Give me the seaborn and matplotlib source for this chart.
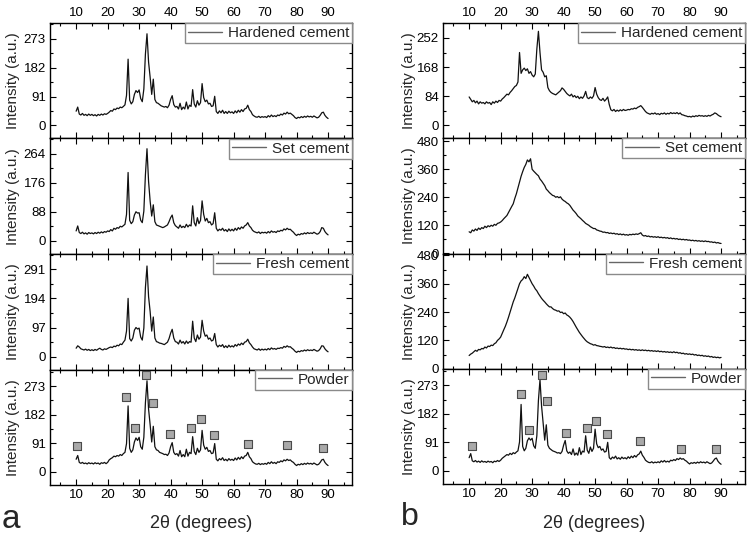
import numpy as np
import pandas as pd
import matplotlib
matplotlib.use("Agg")
import matplotlib.pyplot as plt
import seaborn as sns
from matplotlib.ticker import MultipleLocator, FixedLocator

# ---------------- data ----------------
TWO_THETA = np.arange(10.0, 90.01, 0.5)

LEFT_HARDENED = [
    45, 58, 36, 33, 38, 32, 35, 31, 36, 32,
    35, 31, 34, 30, 35, 32, 36, 33, 37, 35,
    38, 42, 47, 45, 52, 50, 55, 53, 58, 56,
    60, 65, 95, 209, 80, 68, 75, 98, 110, 104,
    112, 85, 75, 115, 225, 289, 200, 152, 98, 146,
    82, 72, 70, 66, 62, 60, 58, 60, 56, 64,
    82, 94, 66, 58, 60, 52, 70, 50, 58, 52,
    74, 52, 64, 60, 113, 68, 58, 78, 64, 72,
    132, 88, 75, 80, 68, 70, 60, 62, 92, 44,
    38, 46, 40, 48, 38, 44, 38, 45, 40, 43,
    38, 46, 40, 48, 42, 50, 44, 52, 54, 64,
    50, 44, 34, 30, 27, 26, 29, 25, 28, 26,
    28, 25, 31, 27, 33, 28, 31, 28, 33, 31,
    36, 33, 39, 36, 42, 37, 39, 35, 31, 25,
    22, 26, 24, 28, 25, 29, 26, 30, 27, 29,
    26, 30, 27, 24, 26, 32, 40, 42, 32, 26,
    22]

LEFT_SET = [
    30, 45, 25, 22, 26, 21, 24, 20, 25, 22,
    24, 21, 25, 22, 26, 23, 27, 24, 28, 26,
    30, 28, 34, 30, 38, 35, 40, 38, 44, 42,
    46, 50, 80, 207, 62, 52, 58, 78, 88, 84,
    85, 62, 55, 90, 200, 279, 180, 120, 75, 109,
    58, 48, 46, 44, 42, 40, 42, 45, 48, 58,
    70, 78, 55, 46, 42, 38, 48, 40, 44, 40,
    50, 42, 48, 45, 106, 55, 45, 70, 52, 62,
    121, 80, 60, 68, 55, 58, 48, 52, 85, 38,
    30, 35, 32, 38, 30, 34, 28, 36, 30, 35,
    30, 38, 32, 40, 35, 42, 38, 45, 48, 55,
    45, 40, 32, 28, 26, 24, 27, 22, 26, 24,
    26, 23, 28, 24, 30, 26, 28, 25, 30, 28,
    32, 30, 36, 33, 38, 34, 35, 30, 26, 20,
    16, 20, 18, 22, 20, 24, 21, 25, 22, 24,
    22, 26, 23, 20, 22, 28, 40, 38, 28, 22,
    18]

LEFT_FRESH = [
    28, 36, 32, 26, 24, 22, 25, 21, 24, 20,
    23, 20, 24, 21, 25, 28, 24, 22, 26, 24,
    27, 30, 32, 30, 35, 33, 38, 36, 42, 40,
    48, 55, 85, 194, 60, 52, 62, 88, 97, 92,
    95, 65, 55, 95, 230, 302, 200, 150, 85, 132,
    62, 50, 48, 45, 44, 42, 40, 44, 48, 60,
    78, 91, 62, 50, 48, 42, 55, 45, 50, 42,
    52, 44, 50, 48, 118, 62, 50, 72, 58, 65,
    121, 85, 68, 72, 58, 62, 52, 55, 77, 40,
    32, 38, 34, 40, 30, 36, 30, 38, 32, 36,
    32, 40, 35, 42, 38, 45, 40, 48, 50, 58,
    46, 40, 32, 26, 24, 22, 26, 21, 25, 22,
    25, 22, 27, 23, 29, 25, 27, 24, 28, 27,
    30, 28, 34, 31, 36, 32, 33, 28, 24, 18,
    14, 18, 16, 20, 18, 22, 19, 23, 20, 22,
    20, 24, 21, 18, 20, 26, 36, 35, 26, 20,
    16]

LEFT_POWDER = [
    40, 52, 30, 27, 30, 26, 28, 25, 29, 26,
    28, 25, 29, 26, 28, 24, 29, 27, 30, 26,
    30, 38, 42, 45, 50, 48, 52, 50, 55, 52,
    58, 62, 90, 210, 75, 62, 70, 95, 108, 100,
    110, 80, 72, 110, 220, 290, 200, 150, 95, 145,
    80, 70, 68, 62, 60, 58, 55, 56, 52, 60,
    80, 93, 62, 55, 58, 50, 68, 48, 55, 48,
    72, 50, 62, 58, 112, 65, 55, 75, 62, 70,
    132, 85, 72, 78, 65, 68, 58, 60, 90, 40,
    35, 42, 38, 45, 36, 40, 35, 42, 37, 40,
    36, 44, 38, 46, 40, 48, 42, 50, 52, 62,
    48, 42, 32, 28, 25, 24, 27, 23, 26, 24,
    27, 24, 30, 26, 32, 27, 30, 26, 32, 30,
    35, 32, 38, 35, 40, 36, 38, 33, 30, 24,
    20, 24, 22, 26, 23, 27, 24, 28, 25, 27,
    24, 28, 25, 22, 24, 30, 38, 40, 30, 24,
    20]

RIGHT_HARDENED = [
    82, 75, 68, 72, 65, 70, 62, 68, 64, 66,
    62, 68, 64, 66, 60, 68, 64, 70, 66, 72,
    70, 76, 80, 85, 90, 88, 95, 100, 106, 112,
    115, 125, 210, 150, 160, 165, 158, 163, 150, 155,
    145, 140, 148, 220, 271, 210, 160, 153, 140, 143,
    109, 100, 95, 92, 90, 88, 92, 96, 100, 108,
    104, 98, 92, 88, 85, 90, 82, 86, 80, 84,
    77, 82, 78, 85, 98, 80, 77, 82, 78, 85,
    109, 90, 80, 74, 72, 78, 70, 75, 82, 60,
    45, 42, 46, 40, 44, 41, 45, 42, 46, 43,
    44, 46, 45, 48, 47, 50, 48, 52, 54, 57,
    52, 46, 40, 36, 34, 32, 35, 33, 36, 32,
    34, 31, 35, 33, 36, 32, 35, 33, 37, 34,
    36, 34, 37, 33, 36, 31, 30, 28, 27, 25,
    26, 24, 27, 25, 28, 26, 29, 27, 28, 26,
    28, 26, 29, 27, 30, 32, 36, 34, 30, 27,
    25]

RIGHT_SET = [
    92, 88, 100, 95, 104, 98, 108, 102, 110, 106,
    116, 110, 118, 114, 120, 116, 124, 120, 128, 130,
    134, 140, 148, 155, 162, 175, 188, 200, 212, 235,
    255, 280, 304, 330, 350, 368, 381, 400, 392, 405,
    360, 352, 345, 338, 332, 318, 310, 300, 290, 275,
    268, 260, 254, 248, 246, 240, 243, 238, 242, 232,
    226, 222, 216, 212, 205, 195, 185, 178, 170, 160,
    154, 148, 141, 135, 128, 124, 120, 114, 110, 106,
    106, 100, 98, 95, 94, 90, 91, 88, 89, 85,
    87, 84, 86, 82, 84, 80, 83, 79, 82, 78,
    80, 77, 81, 79, 82, 80, 83, 81, 84, 88,
    78, 74, 76, 72, 74, 70, 72, 69, 71, 68,
    71, 67, 69, 66, 68, 65, 67, 63, 66, 62,
    64, 61, 63, 59, 61, 58, 60, 57, 59, 56,
    57, 54, 56, 53, 55, 52, 54, 51, 53, 50,
    53, 50, 51, 48, 49, 46, 48, 44, 46, 43,
    42]

RIGHT_FRESH = [
    56, 62, 66, 72, 78, 74, 82, 80, 86, 84,
    92, 88, 96, 94, 100, 98, 106, 110, 120, 126,
    134, 150, 165, 180, 198, 218, 240, 262, 283, 300,
    320, 340, 360, 372, 378, 390, 382, 400, 387, 375,
    360, 350, 338, 330, 318, 308, 298, 290, 283, 275,
    268, 262, 262, 255, 250, 248, 244, 245, 238, 240,
    233, 236, 228, 224, 218, 210, 200, 188, 176, 165,
    154, 145, 136, 128, 120, 114, 110, 106, 104, 100,
    102, 98, 97, 95, 94, 92, 94, 90, 92, 89,
    92, 88, 90, 86, 88, 85, 87, 84, 86, 83,
    84, 81, 83, 80, 82, 79, 81, 78, 80, 77,
    80, 77, 79, 76, 78, 75, 77, 74, 76, 73,
    76, 72, 74, 71, 73, 70, 72, 69, 71, 68,
    72, 68, 70, 66, 68, 64, 66, 62, 64, 61,
    63, 60, 62, 58, 60, 56, 58, 55, 57, 53,
    55, 52, 54, 50, 52, 48, 50, 47, 49, 46,
    48]

RIGHT_POWDER = [
    42, 55, 32, 29, 33, 28, 31, 27, 32, 28,
    30, 27, 31, 28, 30, 26, 31, 29, 33, 30,
    34, 40, 44, 48, 52, 50, 56, 52, 58, 55,
    60, 64, 92, 212, 78, 64, 72, 96, 105, 98,
    104, 80, 72, 112, 225, 291, 207, 152, 98, 147,
    82, 72, 68, 64, 62, 60, 57, 58, 55, 62,
    82, 97, 64, 56, 60, 52, 70, 50, 57, 50,
    74, 52, 63, 60, 112, 66, 56, 76, 62, 72,
    133, 86, 74, 78, 66, 70, 60, 62, 91, 42,
    37, 44, 40, 47, 38, 42, 37, 44, 39, 42,
    38, 45, 40, 47, 42, 49, 44, 51, 54, 63,
    50, 43, 34, 30, 27, 26, 29, 25, 28, 26,
    29, 26, 32, 28, 33, 28, 31, 28, 34, 32,
    36, 33, 39, 36, 41, 37, 39, 34, 31, 26,
    22, 26, 24, 27, 24, 28, 25, 29, 26, 28,
    25, 29, 26, 23, 25, 31, 38, 41, 31, 25,
    21]

# phase markers (grey squares) on the powder patterns
MARK_X_LEFT = [10.4, 25.9, 28.6, 32.1, 34.5, 39.9, 46.6, 49.5, 53.8, 64.5, 77.0, 88.3]
MARK_Y_LEFT = [82, 237, 139, 309, 220, 120, 141, 169, 117, 90, 86, 75]
MARK_X_RIGHT = [10.8, 26.5, 28.9, 33.0, 34.8, 40.6, 47.3, 50.2, 53.9, 64.4, 77.4, 88.5]
MARK_Y_RIGHT = [78, 244, 130, 307, 222, 122, 138, 160, 117, 96, 71, 71]

LABELS = ["Hardened cement", "Set cement", "Fresh cement", "Powder"]
LEFT_SERIES = [LEFT_HARDENED, LEFT_SET, LEFT_FRESH, LEFT_POWDER]
RIGHT_SERIES = [RIGHT_HARDENED, RIGHT_SET, RIGHT_FRESH, RIGHT_POWDER]

LEFT_YTICKS = [[0, 91, 182, 273], [0, 88, 176, 264], [0, 97, 194, 291], [0, 91, 182, 273]]
RIGHT_YTICKS = [[0, 84, 168, 252], [0, 120, 240, 360, 480], [0, 120, 240, 360, 480], [0, 91, 182, 273]]
LEFT_YLIM = [(-41, 323), (-40, 310), (-43, 342), (-42, 326)]
RIGHT_YLIM = [(-37, 295), (-1, 493), (0, 488), (-42, 326)]
X_TICKS = [10, 20, 30, 40, 50, 60, 70, 80, 90]

# ---------------- style ----------------
sns.set_style("ticks")
plt.rcParams["font.family"] = ["Liberation Sans", "DejaVu Sans"]

W, H = 750, 536
fig = plt.figure(figsize=(7.5, 5.36), dpi=100)


def build_column(x0_px, x1_px, top_px, bot_px, series, yticks, ylims, marks,
                 ylabel_x):
    n = len(series)
    hpx = (bot_px - top_px) / n
    axes = []
    for i in range(n):
        t = top_px + i * hpx
        rect = [x0_px / W, 1 - (t + hpx) / H, (x1_px - x0_px) / W, hpx / H]
        ax = fig.add_axes(rect)
        df = pd.DataFrame({"two_theta": TWO_THETA, "intensity": series[i]})
        sns.lineplot(data=df, x="two_theta", y="intensity", ax=ax,
                     color="#111111", linewidth=0.9, label=LABELS[i],
                     errorbar=None)
        if i == n - 1:
            sns.scatterplot(x=marks[0], y=marks[1], ax=ax, marker="s", s=30,
                            color="#a9a9a9", edgecolor="#4a4a4a",
                            linewidth=0.8, zorder=5, legend=False)
        ax.set_xlim(1.7, 97.6)
        ax.set_ylim(*ylims[i])
        ax.xaxis.set_major_locator(FixedLocator(X_TICKS))
        ax.xaxis.set_minor_locator(MultipleLocator(5))
        ax.yaxis.set_major_locator(FixedLocator(yticks[i]))
        step = yticks[i][1] - yticks[i][0]
        ax.yaxis.set_minor_locator(MultipleLocator(step / 2))
        ax.tick_params(which="both", direction="in", top=True, right=True,
                       width=0.8, labelsize=9.5, colors="black", pad=3)
        ax.tick_params(which="major", length=4)
        ax.tick_params(which="minor", length=2.2)
        ax.tick_params(axis="x", labelbottom=(i == n - 1), labeltop=(i == 0))
        for sp in ax.spines.values():
            sp.set_linewidth(1.0)
            sp.set_color("black")
        ax.set_xlabel("")
        ax.set_ylabel("Intensity (a.u.)", fontsize=11)
        ax.yaxis.set_label_coords(ylabel_x, 0.5)
        leg = ax.legend(loc="upper right", borderaxespad=0, fancybox=False,
                        edgecolor="#8a8a8a", framealpha=1, fontsize=11,
                        handlelength=2.25, handletextpad=0.35, borderpad=0.2)
        leg.get_frame().set_linewidth(1.0)
        for ln in leg.get_lines():
            ln.set_color("#666666")
            ln.set_linewidth(1.0)
        axes.append(ax)
    return axes


build_column(50, 352, 23, 485, LEFT_SERIES, LEFT_YTICKS, LEFT_YLIM,
             (MARK_X_LEFT, MARK_Y_LEFT), -0.10)
build_column(443, 745, 23, 484, RIGHT_SERIES, RIGHT_YTICKS, RIGHT_YLIM,
             (MARK_X_RIGHT, MARK_Y_RIGHT), -0.088)

fig.text(201 / W, 1 - 523 / H, "2\u03b8 (degrees)", ha="center", va="center",
         fontsize=13)
fig.text(594 / W, 1 - 523 / H, "2\u03b8 (degrees)", ha="center", va="center",
         fontsize=13)
fig.text(2 / W, 1 - 528 / H, "a", ha="left", va="baseline", fontsize=24)
fig.text(401 / W, 1 - 525 / H, "b", ha="left", va="baseline", fontsize=23)

fig.savefig("out.png", dpi=100)
